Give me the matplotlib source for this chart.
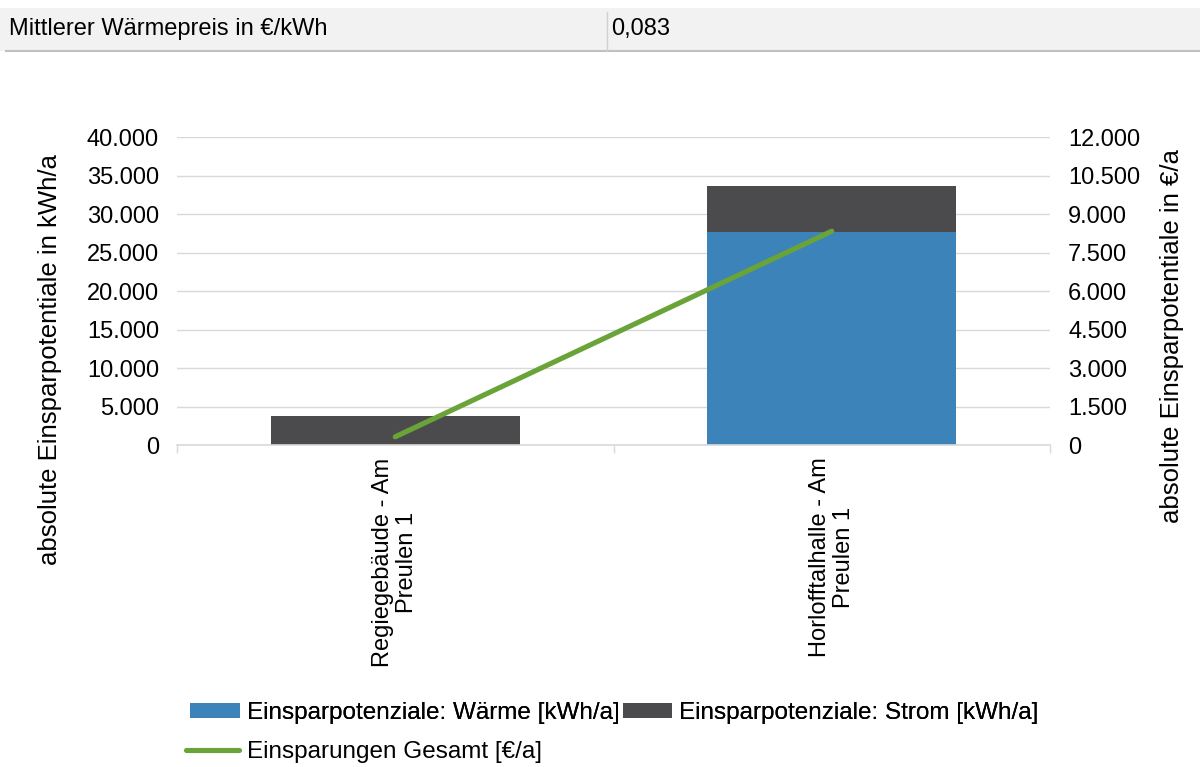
import matplotlib
matplotlib.use('Agg')
from matplotlib import pyplot as plt
import matplotlib.patches as patches
from matplotlib.lines import Line2D
import numpy as np

plt.rcParams['font.family'] = ['Liberation Sans', 'DejaVu Sans']

# data
categories = ['Regiegebäude - Am\nPreulen 1', 'Horlofftalhalle - Am\nPreulen 1']
waerme = [0, 27700]        # kWh/a
strom = [3800, 5900]       # kWh/a
gesamt = [320, 8330]       # €/a
left_ticks = [0, 5000, 10000, 15000, 20000, 25000, 30000, 35000, 40000]
right_ticks = [0, 1500, 3000, 4500, 6000, 7500, 9000, 10500, 12000]
preis_label = 'Mittlerer Wärmepreis in €/kWh'
preis_value = '0,083'

c_blue = '#3b83b8'
c_gray = '#4b4b4d'
c_green = '#6aa338'
c_grid = '#d9d9d9'

fs_tick = 17
fs_lab = 18.5
fs_cat = 17
fs_leg = 17.5

def de_fmt(v):
    return '{:,.0f}'.format(v).replace(',', '.')

fig = plt.figure(figsize=(12, 7.67), dpi=100)

# header row
fig.patches.append(patches.Rectangle((0.0, 1 - 51/767), 1.0, 43/767, transform=fig.transFigure,
                                     facecolor='#f2f2f2', edgecolor='none'))
fig.lines.append(Line2D([0.005, 1.0], [1 - 51/767, 1 - 51/767], transform=fig.transFigure,
                        color='#c0c0c0', lw=1.5))
fig.lines.append(Line2D([607/1200, 607/1200], [1 - 51/767, 1 - 12/767], transform=fig.transFigure,
                        color='#d0d0d0', lw=1))
fig.text(9/1200, 1 - 29/767, preis_label, fontsize=fs_tick, va='center', ha='left')
fig.text(611/1200, 1 - 29/767, preis_value, fontsize=fs_tick, va='center', ha='left')

ax = fig.add_axes([177/1200, 1 - 445/767, (1050 - 177)/1200, (445 - 137)/767])
x = np.arange(len(categories))
w = 0.57
b1 = ax.bar(x, waerme, w, color=c_blue, zorder=2)
b2 = ax.bar(x, strom, w, bottom=waerme, color=c_gray, zorder=2)
ax.set_xlim(-0.5, 1.5)
ax.set_ylim(0, 40000)
ax.set_yticks(left_ticks)
ax.set_yticklabels([de_fmt(t) for t in left_ticks], fontsize=fs_tick)
ax.yaxis.grid(True, color=c_grid, lw=1, zorder=0)
ax.set_axisbelow(True)
for s in ['top', 'right', 'left']:
    ax.spines[s].set_visible(False)
ax.spines['bottom'].set_color(c_grid)
ax.spines['bottom'].set_linewidth(1.2)
ax.tick_params(axis='y', length=0, pad=13)
ax.set_xticks([-0.5, 0.5, 1.5], minor=False)
ax.set_xticklabels(['', '', ''])
ax.tick_params(axis='x', which='major', length=6, color=c_grid, width=1)
ax.set_xticks(x, minor=True)
ax.set_xticklabels(categories, minor=True, rotation=90, fontsize=fs_cat, va='top', ha='center',
                   multialignment='center', linespacing=1.1)
ax.tick_params(axis='x', which='minor', length=0, pad=9)
ax.set_ylabel('absolute Einsparpotentiale in kWh/a', fontsize=fs_lab)
ax.yaxis.set_label_coords(-0.132, 0.276)

ax2 = ax.twinx()
ln, = ax2.plot(x, gesamt, color=c_green, lw=3.7, solid_capstyle='round', zorder=3)
ax2.set_ylim(0, 12000)
ax2.set_yticks(right_ticks)
ax2.set_yticklabels([de_fmt(t) for t in right_ticks], fontsize=fs_tick)
ax2.tick_params(axis='y', length=0, pad=13)
for s in ['top', 'right', 'left', 'bottom']:
    ax2.spines[s].set_visible(False)
ax2.set_ylabel('absolute Einsparpotentiale in €/a', fontsize=fs_lab)
ax2.yaxis.set_label_coords(1.126, 0.355)

# legend
leg1 = fig.legend([b1, b2], ['Einsparpotenziale: Wärme [kWh/a]', 'Einsparpotenziale: Strom [kWh/a]'],
                  loc='center left', bbox_to_anchor=(190/1200, 1 - 713/767), ncol=2, frameon=False,
                  fontsize=fs_leg, handlelength=2.05, handleheight=0.58, handletextpad=0.29,
                  columnspacing=0.12, borderaxespad=0, borderpad=0)
leg2 = fig.legend([ln], ['Einsparungen Gesamt [€/a]'],
                  loc='center left', bbox_to_anchor=(186/1200, 1 - 752/767), frameon=False,
                  fontsize=fs_leg, handlelength=2.2, handletextpad=0.29, borderaxespad=0, borderpad=0)
fig.add_artist(leg1)

fig.savefig('out.png', dpi=100)
